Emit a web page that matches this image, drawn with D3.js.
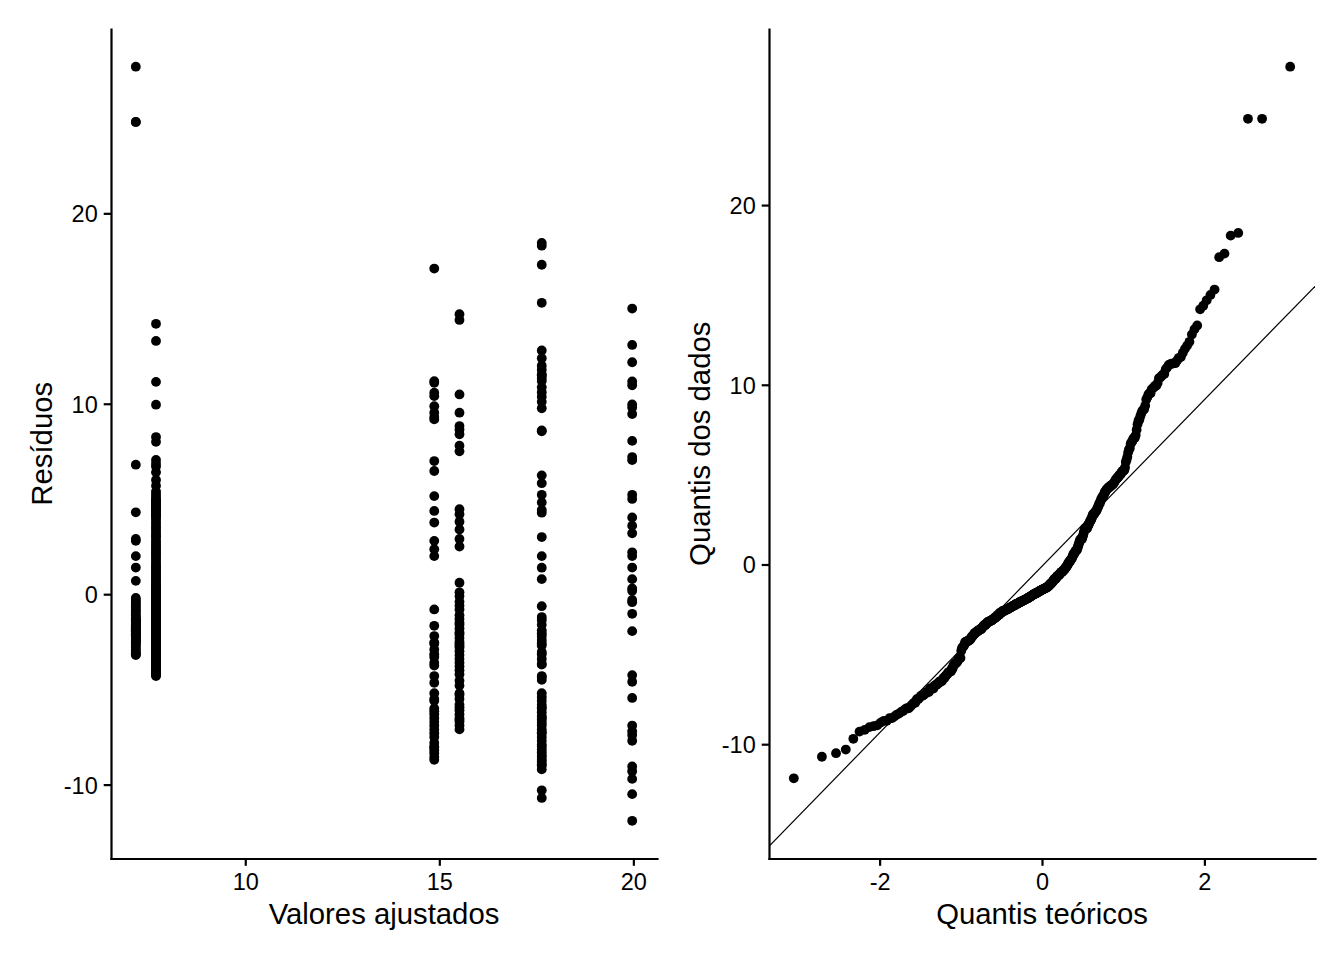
<!DOCTYPE html>
<html><head><meta charset="utf-8">
<script src="https://cdn.jsdelivr.net/npm/d3@7"></script>
<style>
body{margin:0;background:#fff}
svg text{font-family:"Liberation Sans",Arial,sans-serif;fill:#000}
</style>
</head><body>
<svg id="chart" width="1344" height="960"></svg>
<script>
// ---- data ----
const fittedLevels = [7.18, 7.70, 14.87, 15.52, 17.64, 19.97];

const residA = [27.7, 24.8, 24.8, 6.8, 4.3, 2.9, 2.8, 2.0, 1.4, 0.7, -0.2, -0.3, -0.4,
  -0.5, -0.6, -0.7, -0.8, -0.9, -1.0, -1.1, -1.2, -1.28, -1.32, -1.36, -1.4, -1.43,
  -1.46, -1.5, -1.55, -1.6, -1.65, -1.7, -1.75, -1.8, -1.85, -1.9, -1.95, -1.99,
  -2.02, -2.06, -2.1, -2.15, -2.2, -2.25, -2.3, -2.35, -2.4, -2.45, -2.5, -2.54,
  -2.6, -2.7, -2.8, -2.9, -3.0, -3.1, -3.15, -3.2];

const residB = [-4.3, -4.25, -4.2, -4.15, -4.1, -4.0, -3.95, -3.9, -3.85, -3.8, -3.75, -3.7,
  -3.65, -3.6, -3.55, -3.5, -3.45, -3.4, -3.35, -3.3, -3.25, -3.2, -3.13,
  -3.1, -3.05, -3.0, -2.95, -2.9, -2.85, -2.8, -2.7, -2.65, -2.6,
  -2.55, -2.52, -2.49, -2.46, -2.43, -2.4, -2.37, -2.34, -2.31, -2.28, -2.25, -2.22, -2.19, -2.16, -2.13, -2.1, -2.07, -2.04, -2.01,
  -1.97, -1.94, -1.91, -1.88, -1.85, -1.82, -1.79, -1.76, -1.73, -1.7, -1.67, -1.64, -1.61, -1.58, -1.55, -1.52, -1.49, -1.46,
  -1.43, -1.41, -1.38, -1.36, -1.33, -1.31, -1.28, -1.26,
  -1.22, -1.15, -1.1, -1.04, -0.98, -0.92, -0.86, -0.8, -0.74, -0.68, -0.62, -0.56, -0.51,
  -0.45, -0.39, -0.33, -0.27, -0.21, -0.15, -0.09, -0.03, 0.03, 0.09, 0.15, 0.21, 0.27, 0.33, 0.4, 0.47, 0.54, 0.6,
  0.68, 0.77, 0.86, 0.95, 1.04, 1.13, 1.22, 1.31, 1.4, 1.49, 1.58, 1.67,
  1.8, 1.9, 2.0, 2.1, 2.2, 2.3, 2.4, 2.5, 2.6, 2.7, 2.8,
  2.95, 3.05, 3.15, 3.28, 3.4, 3.52, 3.64, 3.76, 3.9,
  4.02, 4.09, 4.16, 4.23, 4.3, 4.37, 4.44, 4.51,
  4.58, 4.64, 4.7, 4.76, 4.82, 4.88, 4.94, 5.0, 5.1, 5.25, 5.4,
  5.7, 6.0, 6.4, 6.7, 6.85, 7.05, 8.0, 8.25, 9.95, 11.15, 13.3, 14.2];

const residC = [-8.7, -8.55, -8.35, -8.2, -8.05, -8.0, -7.8, -7.5, -7.3, -7.1, -6.9, -6.7,
  -6.5, -6.3, -6.15, -6.0, -5.6, -5.5, -5.2, -4.65, -4.3, -3.75, -3.6, -3.3, -3.15,
  -2.9, -2.6, -2.53, -2.2, -1.66, -0.8, 2.0, 2.36, 2.8, 3.76, 4.37, 5.15, 6.47, 6.99,
  9.18, 9.3, 9.53, 9.87, 10.4, 10.58, 11.1, 11.19, 17.1];

const residD = [-7.1, -6.9, -6.7, -6.6, -6.5, -6.3, -6.1, -5.95, -5.8, -5.5, -5.3, -5.2,
  -4.8, -4.55, -4.2, -4.0, -3.8, -3.6, -3.4, -3.2, -3.0, -2.8, -2.7, -2.6, -2.5, -2.3,
  -2.1, -2.0, -1.8, -1.6, -1.5, -1.3, -1.1, -0.8, -0.6, -0.4, -0.1, 0.1, 0.6, 2.5, 2.9,
  3.4, 3.8, 4.2, 4.46, 7.5, 7.8, 8.4, 8.65, 8.83, 9.53, 10.49, 14.4, 14.7];

const residE = [-10.7, -10.3, -9.2, -9.0, -8.95, -8.8, -8.7, -8.55, -8.45, -8.3, -8.15, -8.0,
  -7.9, -7.7, -7.5, -7.3, -7.25, -7.1, -6.9, -6.75, -6.6, -6.5, -6.4, -6.2, -6.0, -5.95,
  -5.8, -5.6, -5.4, -5.2, -4.5, -4.35, -4.3, -3.7, -3.65, -3.4, -3.15, -3.04, -2.7, -2.57,
  -2.4, -2.2, -2.05, -1.9, -1.6, -1.35, -1.2, -0.63, 0.79, 1.39, 2.0, 3.0, 4.28, 4.42,
  4.82, 5.22, 5.83, 6.24, 8.55, 8.6, 9.76, 10.1, 10.37, 10.6, 10.87, 11.2, 11.35, 11.5,
  11.54, 11.78, 12.0, 12.39, 12.8, 15.3, 17.3, 18.3, 18.45];

const residF = [-11.9, -10.5, -9.7, -9.3, -9.05, -7.7, -7.4, -7.2, -6.9, -5.45, -4.6, -4.25,
  -1.94, -1.03, -0.42, -0.3, 0.18, 0.3, 0.79, 1.4, 2.0, 2.2, 3.2, 3.6, 4.03, 5.0, 5.22,
  7.04, 7.2, 8.05, 9.46, 9.8, 9.96, 10.97, 11.17, 12.18, 13.09, 15.0];

const residGroups = [residA, residB, residC, residD, residE, residF];

const leftXTicks = [10, 15, 20];
const leftYTicks = [-10, 0, 10, 20];
const rightXTicks = [-2, 0, 2];
const rightYTicks = [-10, 0, 10, 20];

const leftXTitle = "Valores ajustados";
const leftYTitle = "Resíduos";
const rightXTitle = "Quantis teóricos";
const rightYTitle = "Quantis dos dados";

// ---- helpers ----
function qnorm(p) {
  const a = [-3.969683028665376e+01, 2.209460984245205e+02, -2.759285104469687e+02, 1.383577518672690e+02, -3.066479806614716e+01, 2.506628277459239e+00];
  const b = [-5.447609879822406e+01, 1.615858368580409e+02, -1.556989798598866e+02, 6.680131188771972e+01, -1.328068155288572e+01];
  const c = [-7.784894002430293e-03, -3.223964580411365e-01, -2.400758277161838e+00, -2.549732539343734e+00, 4.374664141464968e+00, 2.938163982698783e+00];
  const d = [7.784695709041462e-03, 3.224671290700398e-01, 2.445134137142996e+00, 3.754408661907416e+00];
  const plow = 0.02425;
  let q, r;
  if (p < plow) {
    q = Math.sqrt(-2 * Math.log(p));
    return (((((c[0]*q+c[1])*q+c[2])*q+c[3])*q+c[4])*q+c[5]) / ((((d[0]*q+d[1])*q+d[2])*q+d[3])*q+1);
  } else if (p <= 1 - plow) {
    q = p - 0.5; r = q*q;
    return (((((a[0]*r+a[1])*r+a[2])*r+a[3])*r+a[4])*r+a[5])*q / (((((b[0]*r+b[1])*r+b[2])*r+b[3])*r+b[4])*r+1);
  } else {
    q = Math.sqrt(-2 * Math.log(1 - p));
    return -(((((c[0]*q+c[1])*q+c[2])*q+c[3])*q+c[4])*q+c[5]) / ((((d[0]*q+d[1])*q+d[2])*q+d[3])*q+1);
  }
}
function expand([lo, hi], m = 0.05) { const d = hi - lo; return [lo - d*m, hi + d*m]; }

const points = residGroups.flatMap((g, i) => g.map(r => ({fitted: fittedLevels[i], resid: r})));

const svg = d3.select("#chart");
const TICK_FS = 23.5, TITLE_FS = 29.3, R = 4.9, AX_W = 2.2;
const plotTop = 29, plotBottom = 858.5;

function styleAxis(g) {
  g.selectAll(".domain").attr("stroke", "#000").attr("stroke-width", AX_W).attr("stroke-linecap", "square");
  g.selectAll(".tick line").attr("stroke", "#000").attr("stroke-width", AX_W);
  g.selectAll(".tick text").attr("font-size", TICK_FS).attr("font-family", '"Liberation Sans", Arial, sans-serif').attr("fill", "#000");
}

function drawAxes(x, y, xt, yt, x0, x1, xTitle, yTitle, yTitleX) {
  const gx = svg.append("g").attr("transform", `translate(0,${plotBottom})`)
    .call(d3.axisBottom(x).tickValues(xt).tickFormat(d => String(d)).tickSize(7.3).tickSizeOuter(0).tickPadding(7.5));
  styleAxis(gx);
  const gy = svg.append("g").attr("transform", `translate(${x0},0)`)
    .call(d3.axisLeft(y).tickValues(yt).tickFormat(d => String(d)).tickSize(7.3).tickSizeOuter(0).tickPadding(6));
  styleAxis(gy);
  gy.selectAll(".tick text").attr("dy", "0.36em");
  svg.append("text").attr("x", (x0 + x1) / 2).attr("y", 924).attr("text-anchor", "middle")
    .attr("font-size", TITLE_FS).text(xTitle);
  svg.append("text").attr("transform", `translate(${yTitleX},${(plotTop + plotBottom) / 2}) rotate(-90)`)
    .attr("text-anchor", "middle").attr("font-size", TITLE_FS).text(yTitle);
}

// ---- left panel: residuals vs fitted ----
const xL = d3.scaleLinear().domain(expand(d3.extent(points, d => d.fitted))).range([111, 657]);
const yL = d3.scaleLinear().domain(expand(d3.extent(points, d => d.resid))).range([plotBottom, plotTop]);

svg.append("g").selectAll("circle").data(points).join("circle")
  .attr("cx", d => xL(d.fitted)).attr("cy", d => yL(d.resid)).attr("r", R).attr("fill", "#000");
drawAxes(xL, yL, leftXTicks, leftYTicks, 111, 657, leftXTitle, leftYTitle, 52);

// ---- right panel: normal QQ plot ----
const sorted = points.map(d => d.resid).sort(d3.ascending);
const n = sorted.length;
const qq = sorted.map((v, i) => ({t: qnorm((i + 0.5) / n), s: v}));
const q1 = d3.quantile(sorted, 0.25), q3 = d3.quantile(sorted, 0.75);
const slope = (q3 - q1) / (qnorm(0.75) - qnorm(0.25));
const intercept = q1 - slope * qnorm(0.25);
const tExt = d3.extent(qq, d => d.t);
const yVals = sorted.concat([intercept + slope * tExt[0], intercept + slope * tExt[1]]);

const xR = d3.scaleLinear().domain(expand(tExt)).range([769, 1315]);
const yR = d3.scaleLinear().domain(expand(d3.extent(yVals))).range([plotBottom, plotTop]);

svg.append("defs").append("clipPath").attr("id", "clipR").append("rect")
  .attr("x", 769).attr("y", plotTop).attr("width", 1315 - 769).attr("height", plotBottom - plotTop);

const xd = xR.domain();
svg.append("line").attr("clip-path", "url(#clipR)")
  .attr("x1", xR(xd[0])).attr("y1", yR(intercept + slope * xd[0]))
  .attr("x2", xR(xd[1])).attr("y2", yR(intercept + slope * xd[1]))
  .attr("stroke", "#000").attr("stroke-width", 1.2);

svg.append("g").selectAll("circle").data(qq).join("circle")
  .attr("cx", d => xR(d.t)).attr("cy", d => yR(d.s)).attr("r", R).attr("fill", "#000");
drawAxes(xR, yR, rightXTicks, rightYTicks, 769, 1315, rightXTitle, rightYTitle, 710);
</script>
</body></html>
